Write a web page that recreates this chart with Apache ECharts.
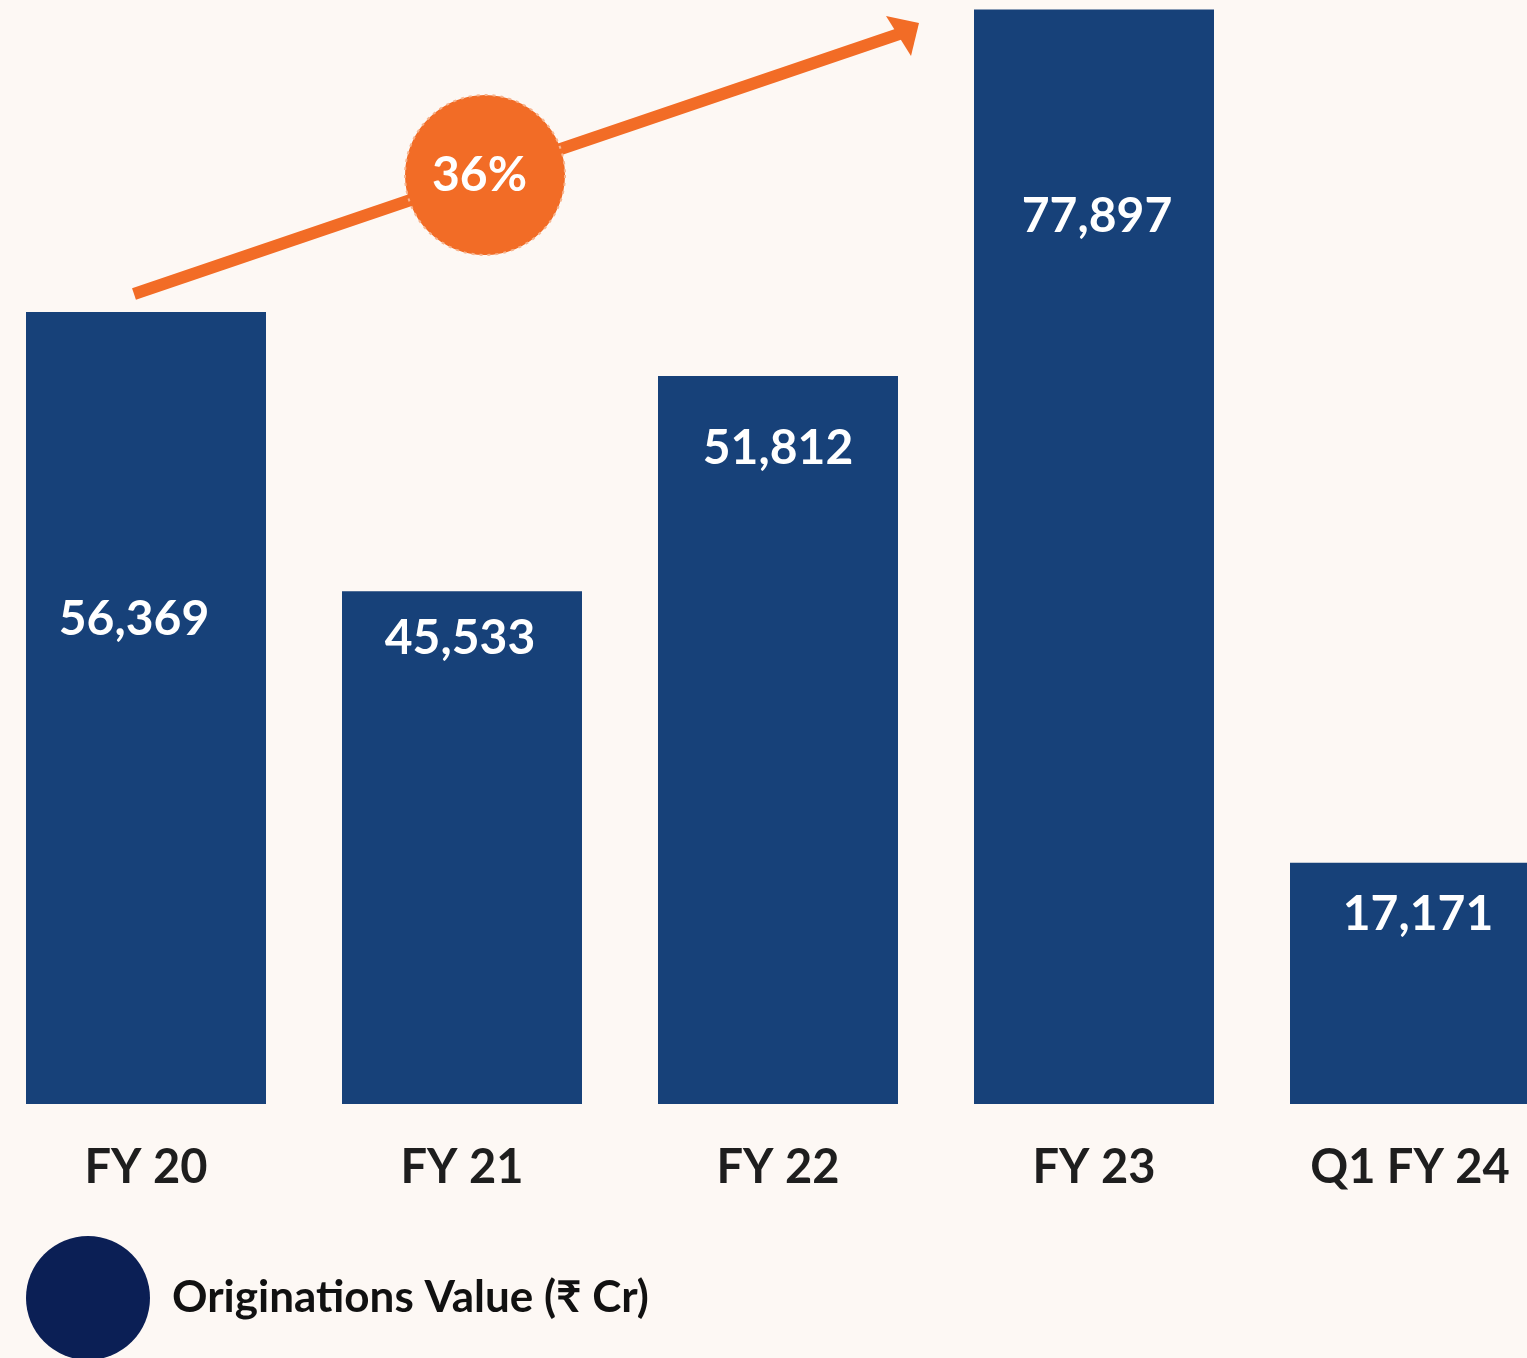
<!DOCTYPE html>
<html>
<head>
<meta charset="utf-8">
<script src="https://cdn.jsdelivr.net/npm/echarts@6/dist/echarts.min.js"></script>
<style>
  html, body { margin: 0; padding: 0; background: #FDF8F4; }
  #chart { width: 1527px; height: 1358px; }
</style>
</head>
<body>
<div id="chart"></div>
<script>
// ---- data ----
const categories = ['FY 20', 'FY 21', 'FY 22', 'FY 23', 'Q1 FY 24'];
// bar lengths as drawn in the reference (FY 21 bar is drawn shorter than its label)
const barValues = [56369, 36500, 51812, 77897, 17171];
// printed value labels
const valueLabels = ['56,369', '45,533', '51,812', '77,897', '17,171'];
const seriesName = 'Originations Value (₹ Cr)';
const growthLabel = '36%';

// ---- layout / style (kept separate from data) ----
const labelOffsets = [[-12, 308], [-2, 47], [0, 73], [3, 207], [8, 52]];
const FONT = 'Lato, "Noto Sans", "DejaVu Sans", sans-serif';
const BAR = '#174179';
const ORANGE = '#F26C26';

const chart = echarts.init(document.getElementById('chart'));
chart.setOption({
  backgroundColor: '#FDF8F4',
  animation: false,
  grid: { left: -12, width: 1580, top: 8, height: 1096, containLabel: false, outerBoundsMode: 'none' },
  xAxis: {
    type: 'category',
    data: categories,
    axisLine: { show: false },
    axisTick: { show: false },
    axisLabel: {
      margin: 40,
      fontFamily: FONT, fontWeight: 'bold', fontSize: 47, color: '#1E1E1E'
    }
  },
  yAxis: {
    type: 'value', min: 0, max: 78000,
    show: false, splitLine: { show: false }
  },
  legend: {
    left: 26, top: 1236, padding: 0,
    itemWidth: 124, itemHeight: 124,
    icon: 'circle',
    data: [{ name: seriesName, itemStyle: { color: '#0B1F55' } }],
    textStyle: {
      fontFamily: FONT, fontWeight: 'bold', fontSize: 44, color: '#111111',
      padding: [0, 0, 0, 17]
    }
  },
  series: [{
    name: seriesName,
    type: 'bar',
    barWidth: 240,
    itemStyle: { color: BAR },
    data: barValues.map((v, i) => ({
      value: v,
      label: {
        show: true,
        position: 'insideTop',
        distance: 0,
        verticalAlign: 'middle',
        offset: labelOffsets[i],
        formatter: () => valueLabels[i],
        fontFamily: FONT, fontWeight: 'bold', fontSize: 48, color: '#FFFFFF'
      }
    }))
  }],
  graphic: [
    {
      type: 'line', z: 10,
      shape: { x1: 134, y1: 294, x2: 902, y2: 33 },
      style: { stroke: ORANGE, lineWidth: 12 }
    },
    {
      type: 'polygon', z: 10,
      shape: { points: [[886, 16], [919, 23], [911, 56]] },
      style: { fill: ORANGE }
    },
    {
      type: 'circle', z: 11,
      shape: { cx: 485, cy: 175, r: 80 },
      style: { fill: ORANGE, stroke: '#F7B48E', lineWidth: 2, lineDash: [3, 5] }
    },
    {
      type: 'text', z: 12,
      left: 432, top: 152,
      style: {
        text: growthLabel, fill: '#FFFFFF',
        font: 'bold 48px ' + FONT
      }
    }
  ]
});
</script>
</body>
</html>
